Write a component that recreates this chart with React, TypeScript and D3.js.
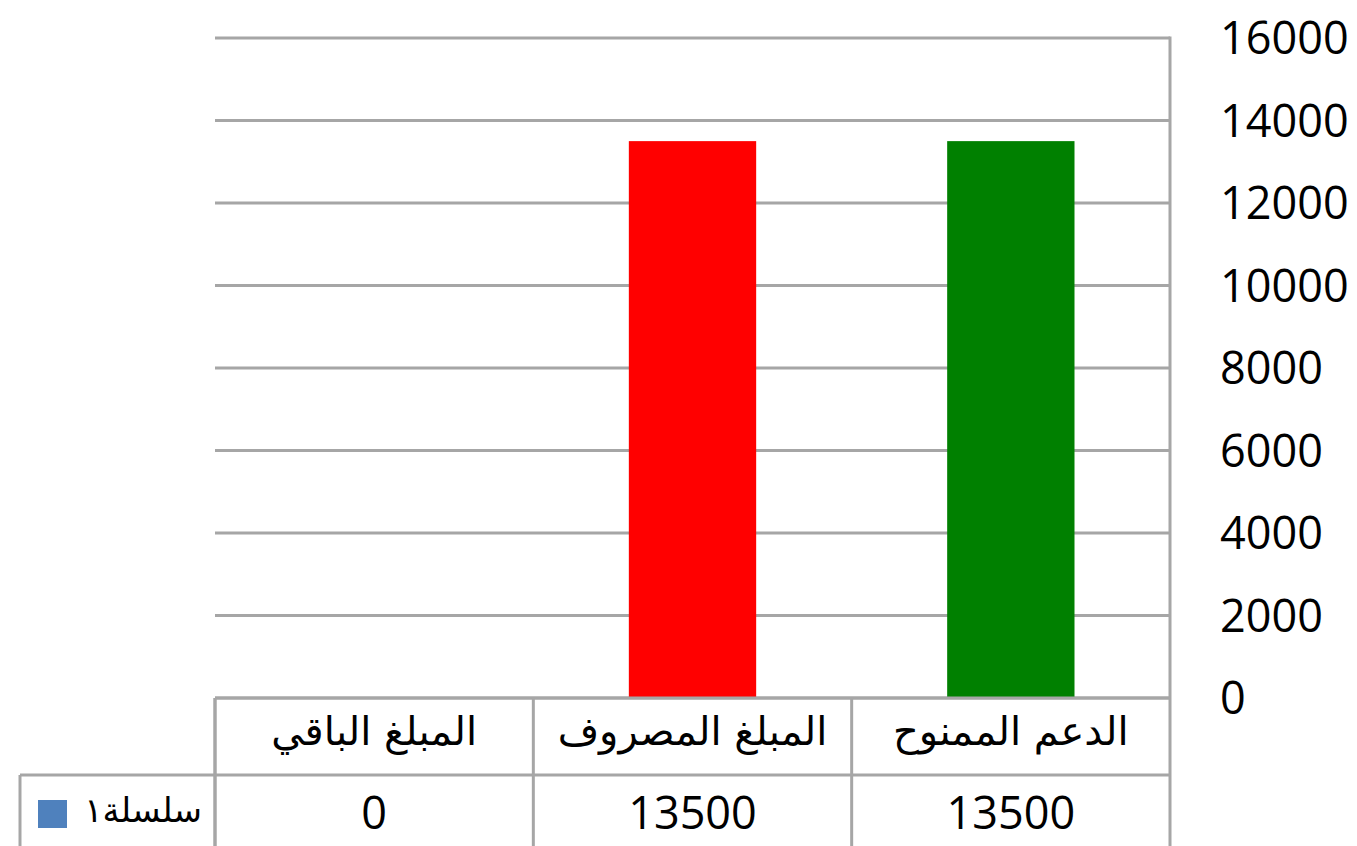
import React, { useMemo } from "react";
import * as d3 from "d3";

const categories = ["الدعم الممنوح", "المبلغ المصروف", "المبلغ الباقي"];
const values = [13500, 13500, 0];
const barColors = ["#008000", "#ff0000", "#4f81bd"];
const yTicks = [0, 2000, 4000, 6000, 8000, 10000, 12000, 14000, 16000];
const seriesName = "سلسلة١";

const WIDTH = 1357;
const HEIGHT = 846;
const GRID = "#a6a6a6";
const NUM_FONT = "'Open Sans', Lato, sans-serif";
const AR_FONT = "'DejaVu Sans', sans-serif";

const App = () => {
    const left = 215;
    const right = 1170;
    const top = 38;
    const bottom = 698;
    const row1 = 775;

    // right to left, like the sheet
    const xScale = useMemo(() => {
        return d3.scaleBand().domain(categories).range([right, left]).padding(0);
    }, []);

    const yScale = useMemo(() => {
        return d3.scaleLinear().domain([0, 16000]).range([bottom, top]);
    }, []);

    const bw = xScale.bandwidth();
    const barW = bw * 0.4;

    return (
        <svg
            width={WIDTH}
            height={HEIGHT}
            style={{ position: "absolute", left: 0, top: 0, display: "block", background: "#fff" }}
        >
            {/* gridlines */}
            {yTicks.map((t) => (
                <line
                    key={"g" + t}
                    x1={left}
                    x2={right}
                    y1={yScale(t)}
                    y2={yScale(t)}
                    stroke={GRID}
                    strokeWidth={3}
                />
            ))}

            {/* bars */}
            {categories.map((c, i) => {
                const x = (xScale(c) as number) + bw / 2 - barW / 2;
                return (
                    <rect
                        key={"b" + i}
                        x={x}
                        y={yScale(values[i])}
                        width={barW}
                        height={bottom - yScale(values[i])}
                        fill={barColors[i]}
                    />
                );
            })}

            {/* right axis */}
            <line x1={right} x2={right} y1={top - 1.5} y2={HEIGHT} stroke={GRID} strokeWidth={3} />
            {yTicks.map((t) => (
                <text
                    key={"t" + t}
                    x={1220}
                    y={yScale(t) + 16}
                    fontFamily={NUM_FONT}
                    fontSize={45}
                    fill="#000"
                >
                    {t}
                </text>
            ))}

            {/* data table */}
            <line x1={left} x2={right} y1={bottom} y2={bottom} stroke={GRID} strokeWidth={3} />
            <line x1={20} x2={right} y1={row1} y2={row1} stroke={GRID} strokeWidth={3} />
            <line x1={20} x2={20} y1={row1} y2={HEIGHT} stroke={GRID} strokeWidth={3} />
            <line x1={left} x2={left} y1={bottom} y2={HEIGHT} stroke={GRID} strokeWidth={3} />
            {categories.map((c, i) => {
                const x0 = xScale(c) as number;
                return (
                    <g key={"c" + i}>
                        <line x1={x0} x2={x0} y1={bottom} y2={HEIGHT} stroke={GRID} strokeWidth={3} />
                        <text
                            x={x0 + bw / 2}
                            y={745}
                            textAnchor="middle"
                            fontFamily={AR_FONT}
                            fontSize={40}
                            fill="#000"
                        >
                            {c}
                        </text>
                        <text
                            x={x0 + bw / 2}
                            y={829}
                            textAnchor="middle"
                            fontFamily={NUM_FONT}
                            fontSize={45}
                            fill="#000"
                        >
                            {values[i]}
                        </text>
                    </g>
                );
            })}

            {/* legend key */}
            <rect x={38} y={800} width={29} height={28} fill={barColors[2]} />
            <text x={202} y={822} textAnchor="end" fontFamily={AR_FONT} fontSize={34} fill="#000">
                {seriesName}
            </text>
        </svg>
    );
};

export default App;
